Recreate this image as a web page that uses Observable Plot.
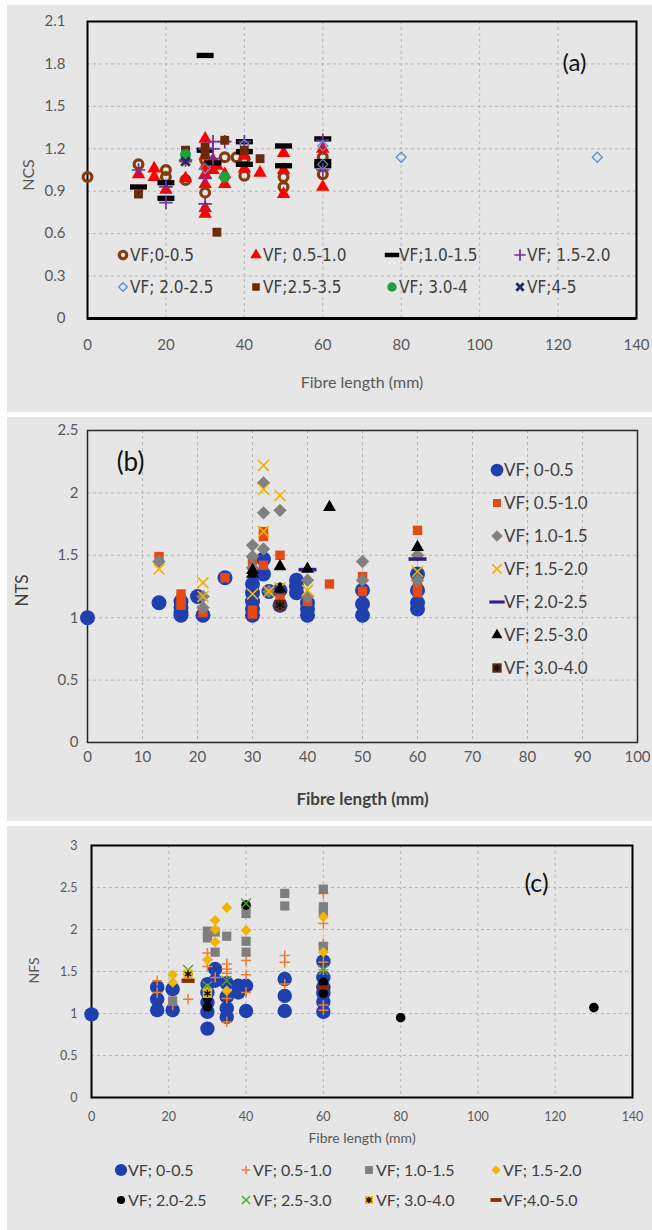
<!DOCTYPE html>
<html><head><meta charset="utf-8">
<script src="https://cdn.jsdelivr.net/npm/d3@7"></script>
<script src="https://cdn.jsdelivr.net/npm/@observablehq/plot@0.6"></script>
<style>
html,body{margin:0;padding:0;background:#fff;}
body{width:652px;height:1230px;position:relative;overflow:hidden;font-family:Lato,"Open Sans",sans-serif;}
.panel{position:absolute;left:7px;width:645px;background:#e6e6e6;}
.panel svg{display:block;}
.leg{position:absolute;display:flex;align-items:center;white-space:nowrap;height:20px;line-height:20px;}
.leg svg{flex:none;}
.legA{font-family:"Liberation Sans Narrow","Arial Narrow","DejaVu Sans",sans-serif;font-stretch:condensed;font-size:17px;color:#404040;}
.legB{font-family:Lato,sans-serif;font-size:17px;color:#404040;}
.legC{font-family:Lato,sans-serif;font-size:16px;color:#404040;}
</style></head><body>
<div id="pa" class="panel" style="top:5px;height:407px"></div>
<div id="pb" class="panel" style="top:417px;height:404px"></div>
<div id="pc" class="panel" style="top:826px;height:404px"></div>
<script>
// ---------------- DATA ----------------
// Tick labels
const X_TICKS_A = [0, 20, 40, 60, 80, 100, 120, 140];
const Y_TICKS_A = [0, 0.3, 0.6, 0.9, 1.2, 1.5, 1.8, 2.1];
const X_TICKS_B = [0, 10, 20, 30, 40, 50, 60, 70, 80, 90, 100];
const Y_TICKS_B = [0, 0.5, 1, 1.5, 2, 2.5];
const X_TICKS_C = [0, 20, 40, 60, 80, 100, 120, 140];
const Y_TICKS_C = [0, 0.5, 1, 1.5, 2, 2.5, 3];

// Panel (a) NCS – series labels
const LABELS_A = ["VF;0-0.5", "VF; 0.5-1.0", "VF;1.0-1.5", "VF; 1.5-2.0", "VF; 2.0-2.5", "VF;2.5-3.5", "VF; 3.0-4", "VF;4-5"];
const A_VF_0_05 = [[0,1.0],[13,1.09],[20,1.05],[20,1.0],[25,0.98],[30,0.89],[30,1.12],[35,1.14],[38,1.14],[40,1.01],[40,1.13],[50,1.0],[50,0.93],[60,1.14],[60,1.02]];
const A_VF_05_10 = [[13,1.02],[17,1.06],[17,1.0],[20,0.91],[25,1.13],[25,0.99],[30,1.27],[30,1.15],[30,1.08],[30,1.02],[30,0.95],[30,0.78],[30,0.74],[32,1.12],[32,1.05],[33,1.08],[35,1.02],[35,0.95],[40,1.15],[40,1.06],[44,1.03],[50,1.17],[50,1.05],[50,0.88],[60,1.2],[60,0.93]];
const A_VF_10_15 = [[13,0.93],[20,0.96],[20,0.85],[30,1.86],[30,1.19],[32,1.1],[40,1.25],[40,1.18],[40,1.09],[50,1.22],[50,1.08],[60,1.27],[60,1.11],[60,1.08]];
const A_VF_15_20 = [[13,1.05],[20,0.93],[20,0.82],[25,1.12],[30,1.2],[30,0.99],[30,0.81],[32,1.25],[32,1.2],[32,1.13],[35,1.25],[40,1.25],[60,1.26],[60,1.05]];
const A_VF_20_25 = [[30,1.06],[40,1.23],[60,1.22],[60,1.09],[80,1.14],[130,1.14]];
const A_VF_25_35 = [[13,0.88],[25,1.19],[30,1.21],[30,1.16],[33,0.61],[35,1.26],[40,1.19],[44,1.13]];
const A_VF_30_40 = [[25,1.16],[35,1.0]];
const A_VF_40_50 = [[25,1.11]];

// Panel (b) NTS
const LABELS_B = ["VF; 0-0.5", "VF; 0.5-1.0", "VF; 1.0-1.5", "VF; 1.5-2.0", "VF; 2.0-2.5", "VF; 2.5-3.0", "VF; 3.0-4.0"];
const B_VF_0_05 = [[0,1.0],[13,1.12],[17,1.13],[17,1.08],[17,1.04],[17,1.02],[20,1.17],[21,1.02],[25,1.32],[30,1.27],[30,1.2],[30,1.13],[30,1.07],[30,1.02],[32,1.47],[32,1.35],[33,1.21],[35,1.22],[35,1.1],[38,1.3],[38,1.25],[38,1.2],[40,1.12],[40,1.07],[40,1.02],[50,1.22],[50,1.11],[50,1.02],[60,1.35],[60,1.22],[60,1.12],[60,1.07]];
const B_VF_05_10 = [[13,1.49],[17,1.19],[17,1.15],[17,1.1],[21,1.04],[25,1.32],[30,1.46],[30,1.06],[30,1.03],[32,1.69],[32,1.65],[32,1.42],[35,1.5],[35,1.15],[40,1.13],[44,1.27],[50,1.33],[50,1.21],[60,1.7],[60,1.25],[60,1.2]];
const B_VF_10_15 = [[13,1.45],[21,1.17],[21,1.08],[30,1.58],[30,1.49],[30,1.4],[32,2.08],[32,1.84],[32,1.55],[33,1.21],[35,1.86],[40,1.3],[40,1.17],[50,1.45],[50,1.3],[60,1.5],[60,1.3]];
const B_VF_15_20 = [[13,1.39],[21,1.28],[21,1.17],[30,1.19],[32,2.22],[32,2.03],[32,1.69],[33,1.21],[35,1.98],[35,1.24],[40,1.22],[60,1.37]];
const B_VF_20_25 = [[40,1.385],[60,1.47]];
const B_VF_25_30 = [[30,1.38],[30,1.35],[35,1.41],[35,1.23],[40,1.39],[44,1.885],[60,1.565]];
const B_VF_30_40 = [[35,1.1]];

// Panel (c) NFS
const LABELS_C = ["VF; 0-0.5", "VF; 0.5-1.0", "VF; 1.0-1.5", "VF; 1.5-2.0", "VF; 2.0-2.5", "VF; 2.5-3.0", "VF; 3.0-4.0", "VF;4.0-5.0"];
const C_VF_0_05 = [[0,0.99],[17,1.31],[17,1.17],[17,1.04],[21,1.29],[21,1.04],[30,1.35],[30,1.25],[30,1.13],[30,1.02],[30,0.82],[32,1.53],[32,1.39],[35,1.36],[35,1.2],[35,1.06],[35,0.96],[38,1.33],[38,1.25],[40,1.33],[40,1.03],[50,1.41],[50,1.21],[50,1.03],[60,1.62],[60,1.43],[60,1.31],[60,1.24],[60,1.14],[60,1.02]];
const C_VF_05_10 = [[17,1.39],[17,1.25],[21,1.1],[25,1.17],[30,1.72],[30,1.64],[30,1.56],[32,1.43],[35,1.59],[35,1.53],[35,1.48],[35,1.18],[35,0.9],[40,1.63],[40,1.46],[40,1.25],[50,1.69],[50,1.61],[50,1.35],[60,2.43],[60,2.07],[60,1.83],[60,1.61],[60,1.52],[60,1.1],[60,1.04]];
const C_VF_10_15 = [[21,1.15],[30,1.98],[30,1.9],[32,1.97],[32,1.73],[35,1.92],[40,2.19],[40,1.86],[40,1.73],[50,2.43],[50,2.28],[60,2.48],[60,2.27],[60,2.2],[60,1.8]];
const C_VF_15_20 = [[21,1.46],[21,1.37],[30,1.64],[30,1.29],[32,2.11],[32,2.0],[32,1.85],[35,2.26],[35,1.27],[40,1.99],[60,2.15],[60,1.73]];
const C_VF_20_25 = [[30,1.18],[30,1.08],[40,2.29],[60,1.37],[60,1.24],[80,0.95],[130,1.07]];
const C_VF_25_30 = [[25,1.52],[30,1.33],[35,1.39],[40,2.31],[60,1.52]];
const C_VF_30_40 = [[25,1.47],[30,1.24]];
const C_VF_40_50 = [[25,1.39],[60,1.31]];

// ---------------- STYLES ----------------
function dashSymbol(aspect) {
  return {draw(ctx, size) {
    const r = Math.sqrt(size / Math.PI), h = r / aspect;
    ctx.moveTo(-r, -h); ctx.lineTo(r, -h); ctx.lineTo(r, h); ctx.lineTo(-r, h); ctx.closePath();
  }};
}
const SYM = {circle: d3.symbolCircle, triangle: d3.symbolTriangle, square: d3.symbolSquare, plus: d3.symbolPlus,
  times: d3.symbolTimes, diamond2: d3.symbolDiamond2, asterisk: d3.symbolAsterisk};
const symType = s => (typeof s === "string" ? SYM[s] : s);

const STYLE_A = [
  {symbol: "circle", r: 4.4, fill: "none", stroke: "#843c0c", sw: 3.2},
  {symbol: "triangle", r: 5, fill: "#ff0000", stroke: "none", sw: 0},
  {symbol: dashSymbol(3.2), r: 8.5, fill: "#000", stroke: "none", sw: 0},
  {symbol: "plus", r: 4.4, fill: "none", stroke: "#7030a0", sw: 1.7},
  {symbol: "diamond2", r: 4.5, fill: "none", stroke: "#5b8fcc", sw: 1.3},
  {symbol: "square", r: 5, fill: "#6b2a0a", stroke: "none", sw: 0},
  {symbol: "circle", r: 5.5, fill: "#1fa03c", stroke: "none", sw: 0},
  {symbol: "times", r: 4, fill: "none", stroke: "#1f2d5c", sw: 2.8}
];
const STYLE_B = [
  {symbol: "circle", r: 7.5, fill: "#1f3fae", stroke: "none", sw: 0},
  {symbol: "square", r: 5.3, fill: "#e64a14", stroke: "none", sw: 0},
  {symbol: "diamond2", r: 5.8, fill: "#808080", stroke: "#808080", sw: 0.5},
  {symbol: "times", r: 5, fill: "none", stroke: "#f2b000", sw: 1.6},
  {symbol: dashSymbol(5), r: 9, fill: "#3d1c7a", stroke: "none", sw: 0},
  {symbol: "triangle", r: 4.8, fill: "#000", stroke: "none", sw: 0},
  {symbol: "square", r: 6.2, fill: "#5a2a12", stroke: "none", sw: 0, over: {symbol: "asterisk", r: 4.2, stroke: "#111", sw: 1.5}}
];
const STYLE_C = [
  {symbol: "circle", r: 7.2, fill: "#1f3fae", stroke: "none", sw: 0},
  {symbol: "plus", r: 3.4, fill: "none", stroke: "#ed7d31", sw: 1.5},
  {symbol: "square", r: 5.2, fill: "#7f7f7f", stroke: "none", sw: 0},
  {symbol: "diamond2", r: 4.6, fill: "#f2b400", stroke: "#f2b400", sw: 0.5},
  {symbol: "circle", r: 4.8, fill: "#000", stroke: "none", sw: 0},
  {symbol: "times", r: 4.5, fill: "none", stroke: "#4ea72e", sw: 1.4},
  {symbol: "square", r: 5.2, fill: "#f2b400", stroke: "none", sw: 0, over: {symbol: "asterisk", r: 3.4, stroke: "#111", sw: 1.5}},
  {symbol: dashSymbol(3), r: 6.5, fill: "#8b2a00", stroke: "none", sw: 0}
];

const SERIES_A = [A_VF_0_05, A_VF_05_10, A_VF_10_15, A_VF_15_20, A_VF_20_25, A_VF_25_35, A_VF_30_40, A_VF_40_50];
const SERIES_B = [B_VF_0_05, B_VF_05_10, B_VF_10_15, B_VF_15_20, B_VF_20_25, B_VF_25_30, B_VF_30_40];
const SERIES_C = [C_VF_0_05, C_VF_05_10, C_VF_10_15, C_VF_15_20, C_VF_20_25, C_VF_25_30, C_VF_30_40, C_VF_40_50];

function dotMarks(series, styles) {
  const out = [];
  series.forEach((data, i) => {
    const s = styles[i];
    out.push(Plot.dot(data, {x: d => d[0], y: d => d[1], symbol: symType(s.symbol), r: s.r,
      fill: s.fill, stroke: s.stroke, strokeWidth: s.sw}));
    if (s.over) out.push(Plot.dot(data, {x: d => d[0], y: d => d[1], symbol: symType(s.over.symbol), r: s.over.r,
      fill: "none", stroke: s.over.stroke, strokeWidth: s.over.sw}));
  });
  return out;
}

function legendMarker(s, scale) {
  const ns = "http://www.w3.org/2000/svg";
  const svg = document.createElementNS(ns, "svg");
  svg.setAttribute("width", 20); svg.setAttribute("height", 20);
  const add = (sym, r, fill, stroke, sw) => {
    const p = document.createElementNS(ns, "path");
    p.setAttribute("d", d3.symbol(symType(sym), Math.PI * r * r)());
    p.setAttribute("transform", "translate(10,10)");
    p.setAttribute("fill", fill); p.setAttribute("stroke", stroke); p.setAttribute("stroke-width", sw);
    svg.appendChild(p);
  };
  add(s.symbol, s.r * scale, s.fill, s.stroke, s.sw);
  if (s.over) add(s.over.symbol, s.over.r * scale, "none", s.over.stroke, s.over.sw);
  return svg;
}
function legend(container, labels, styles, positions, cls, scale) {
  labels.forEach((lab, i) => {
    const [mx, my] = positions[i];
    const div = document.createElement("div");
    div.className = "leg " + cls;
    div.style.left = (mx - 10) + "px"; div.style.top = (my - 10) + "px";
    div.appendChild(legendMarker(styles[i], scale));
    const sp = document.createElement("span"); sp.textContent = lab; sp.style.marginLeft = "-3px";
    div.appendChild(sp);
    container.appendChild(div);
  });
}

const fmt = d => (d === 0 ? "0" : String(d));
const fmt1 = d => (d === 0 ? "0" : d.toFixed(1));
const GRID = {stroke: "#b8b8b8", strokeOpacity: 1, strokeDasharray: "3,3", strokeWidth: 1};
const MID = {textAnchor: "middle", lineAnchor: "middle"};

// ---------------- PANEL A ----------------
const plotA = Plot.plot({
  width: 645, height: 407, marginLeft: 80, marginRight: 16, marginTop: 16, marginBottom: 94,
  style: {background: "transparent", fontFamily: "Lato, sans-serif", fontSize: "15px", color: "#595959", overflow: "visible"},
  x: {domain: [0, 140], label: null},
  y: {domain: [0, 2.1], label: null},
  marks: [
    Plot.gridX(X_TICKS_A, GRID),
    Plot.gridY(Y_TICKS_A, GRID),
    Plot.axisX(X_TICKS_A, {tickSize: 0, tickPadding: 21, tickFormat: fmt, label: null}),
    Plot.axisY(Y_TICKS_A, {tickSize: 0, tickPadding: 22, tickFormat: fmt1, label: null}),
    Plot.frame({stroke: "#000", strokeWidth: 2}),
    Plot.ruleY([0], {stroke: "#000", strokeWidth: 3}),
    ...dotMarks(SERIES_A, STYLE_A),
    Plot.text(["Fibre length (mm)"], {frameAnchor: "bottom", dy: 64, ...MID, fontSize: 16, fill: "#595959"}),
    Plot.text(["NCS"], {frameAnchor: "left", dx: -59, dy: 5, ...MID, rotate: -90, fontSize: 16, fill: "#595959"}),
    Plot.text(["(a)"], {frameAnchor: "top-right", dx: -62, dy: 42, ...MID, fontSize: 24, fill: "#111"})
  ]
});
const pa = document.getElementById("pa");
pa.appendChild(plotA);
legend(pa, LABELS_A, STYLE_A,
  [[116,250],[249,250],[385,250],[513,250],[116,282],[249,282],[385,282],[513,282]], "legA", 0.85);

// ---------------- PANEL B ----------------
const plotB = Plot.plot({
  width: 645, height: 404, marginLeft: 80, marginRight: 15, marginTop: 13, marginBottom: 79,
  style: {background: "transparent", fontFamily: "Lato, sans-serif", fontSize: "15px", color: "#595959", overflow: "visible"},
  x: {domain: [0, 100], label: null},
  y: {domain: [0, 2.5], label: null},
  marks: [
    Plot.gridX(X_TICKS_B, GRID),
    Plot.gridY(Y_TICKS_B, GRID),
    Plot.axisX(X_TICKS_B, {tickSize: 0, tickPadding: 9, tickFormat: fmt, label: null}),
    Plot.axisY(Y_TICKS_B, {tickSize: 0, tickPadding: 9, tickFormat: fmt, label: null}),
    Plot.frame({stroke: "#262626", strokeWidth: 1.5}),
    ...dotMarks(SERIES_B, STYLE_B),
    Plot.text(["Fibre length (mm)"], {frameAnchor: "bottom", dy: 57, ...MID, fontSize: 17, fontWeight: "bold", fill: "#404040"}),
    Plot.text(["NTS"], {frameAnchor: "left", dx: -65, dy: 4, ...MID, rotate: -90, fontSize: 17, fill: "#404040"}),
    Plot.text(["(b)"], {frameAnchor: "top-left", dx: 43, dy: 32, ...MID, fontSize: 26, fill: "#111"})
  ]
});
const pb = document.getElementById("pb");
pb.appendChild(plotB);
legend(pb, LABELS_B, STYLE_B, LABELS_B.map((_, i) => [490, 53 + 33 * i]), "legB", 0.85);

// ---------------- PANEL C ----------------
const plotC = Plot.plot({
  width: 645, height: 404, marginLeft: 84, marginRight: 20, marginTop: 19, marginBottom: 133,
  style: {background: "transparent", fontFamily: "Lato, sans-serif", fontSize: "12.5px", color: "#595959", overflow: "visible"},
  x: {domain: [0, 140], label: null},
  y: {domain: [0, 3], label: null},
  marks: [
    Plot.gridX(X_TICKS_C, GRID),
    Plot.gridY(Y_TICKS_C, GRID),
    Plot.axisX(X_TICKS_C, {tickSize: 0, tickPadding: 15, tickFormat: fmt, label: null}),
    Plot.axisY(Y_TICKS_C, {tickSize: 0, tickPadding: 14, tickFormat: fmt, label: null}),
    Plot.frame({stroke: "#000", strokeWidth: 2}),
    ...dotMarks(SERIES_C, STYLE_C),
    Plot.text(["Fibre length (mm)"], {frameAnchor: "bottom", dy: 41, ...MID, fontSize: 14, fill: "#595959"}),
    Plot.text(["NFS"], {frameAnchor: "left", dx: -57, dy: -1, ...MID, rotate: -90, fontSize: 14, fill: "#595959"}),
    Plot.text(["(c)"], {frameAnchor: "top-right", dx: -96, dy: 38, ...MID, fontSize: 25, fill: "#111"})
  ]
});
const pc = document.getElementById("pc");
pc.appendChild(plotC);
legend(pc, LABELS_C, STYLE_C,
  [[114,344],[239,344],[362,344],[489,344],[114,374],[239,374],[362,374],[489,374]], "legC", 0.85);
</script>
</body></html>
